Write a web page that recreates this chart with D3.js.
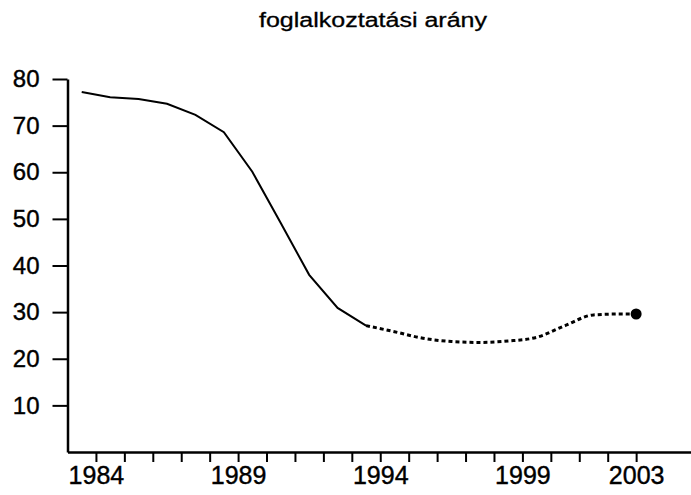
<!DOCTYPE html>
<html>
<head>
<meta charset="utf-8">
<script src="https://cdn.jsdelivr.net/npm/d3@7"></script>
<style>
  body { margin: 0; background: #fff; }
  text { font-family: "Liberation Sans", Arial, sans-serif; fill: #000; }
</style>
</head>
<body>
<div id="chart"></div>
<script>
// data (x = middle of the year)
const solidYears = [1983.5, 1984.5, 1985.5, 1986.5, 1987.5, 1988.5, 1989.5, 1990.5, 1991.5, 1992.5, 1993.5];
const solidValues = [77.2, 76.1, 75.7, 74.7, 72.3, 68.6, 60.1, 49.1, 38.0, 30.9, 27.1];
const dashedYears = [1993.5, 1994.5, 1995.5, 1996.5, 1997.5, 1998.5, 1999.5, 2000.5, 2001.5, 2002.5, 2003];
const dashedValues = [27.1, 25.8, 24.4, 23.7, 23.5, 23.8, 24.6, 27.1, 29.4, 29.6, 29.6];
const endYear = 2003;
const endValue = 29.6;
const yTicks = [10, 20, 30, 40, 50, 60, 70, 80];
const xTicks = d3.range(1984, 2004);
const xLabels = [1984, 1989, 1994, 1999, 2003];
const title = 'foglalkoztatási arány';

const width = 691, height = 495;

const svg = d3.select('#chart').append('svg')
  .attr('width', width)
  .attr('height', height);

const x = d3.scaleLinear().domain([1983, 2005]).range([67.5, 693]);
const y = d3.scaleLinear().domain([0, 80]).range([452, 79]);

svg.append('text')
  .attr('x', 373)
  .attr('y', 27)
  .attr('text-anchor', 'middle')
  .attr('font-size', 20)
  .attr('stroke', '#000')
  .attr('stroke-width', 0.3)
  .attr('textLength', 228)
  .attr('lengthAdjust', 'spacingAndGlyphs')
  .text(title);

const xAxis = svg.append('g')
  .attr('transform', 'translate(0,' + y(0) + ')')
  .call(d3.axisBottom(x)
    .tickValues(xTicks)
    .tickSize(10)
    .tickSizeOuter(0)
    .tickPadding(4)
    .tickFormat(d => xLabels.includes(d) ? d : ''));

const yAxis = svg.append('g')
  .attr('transform', 'translate(' + x(1983) + ',0)')
  .call(d3.axisLeft(y)
    .tickValues(yTicks)
    .tickSize(15)
    .tickSizeOuter(0)
    .tickPadding(13));

xAxis.select('.domain').attr('stroke-width', 2.5);
yAxis.select('.domain').attr('stroke-width', 2.5);
xAxis.selectAll('.tick line').attr('stroke-width', 2);
yAxis.selectAll('.tick line').attr('stroke-width', 2);
xAxis.selectAll('text').attr('font-size', 25).attr('font-family', null)
  .attr('stroke', '#000').attr('stroke-width', 0.4);
yAxis.selectAll('text').attr('font-size', 24).attr('font-family', null)
  .attr('stroke', '#000').attr('stroke-width', 0.4);

const line = d3.line()
  .x(d => x(d[0]))
  .y(d => y(d[1]));

svg.append('path')
  .datum(d3.zip(solidYears, solidValues))
  .attr('fill', 'none')
  .attr('stroke', '#000')
  .attr('stroke-width', 2)
  .attr('d', line);

svg.append('path')
  .datum(d3.zip(dashedYears, dashedValues))
  .attr('fill', 'none')
  .attr('stroke', '#000')
  .attr('stroke-width', 3)
  .attr('stroke-dasharray', '4,3')
  .attr('d', line.curve(d3.curveMonotoneX));

svg.append('circle')
  .attr('cx', x(endYear))
  .attr('cy', y(endValue))
  .attr('r', 5.5)
  .attr('fill', '#000');
</script>
</body>
</html>
